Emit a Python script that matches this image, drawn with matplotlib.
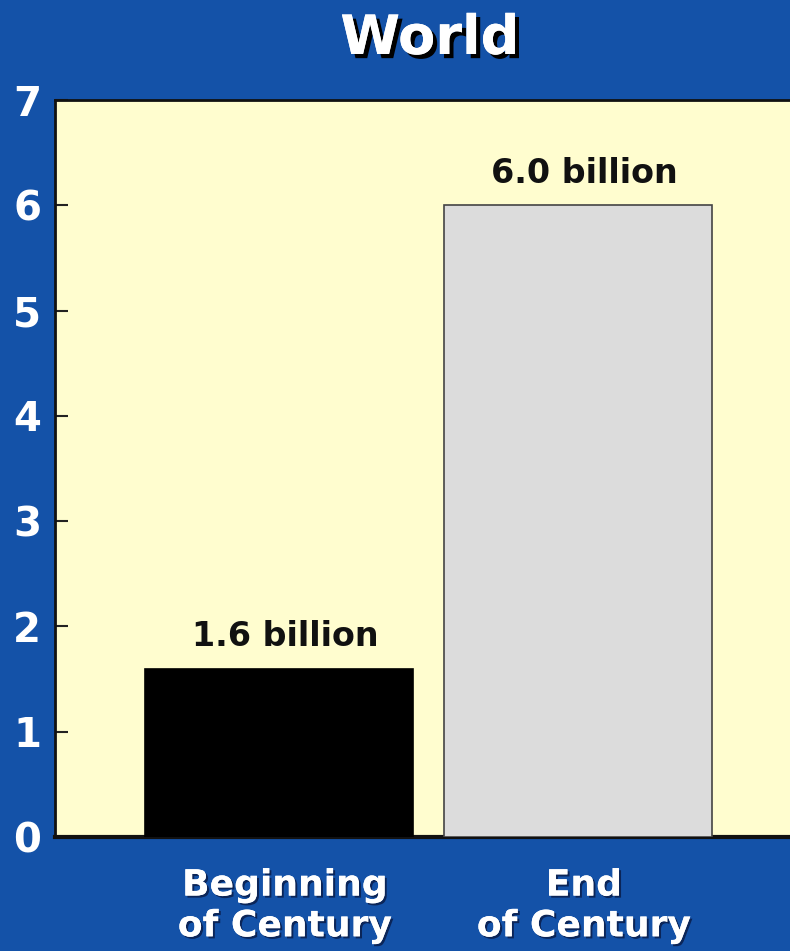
import matplotlib
matplotlib.use('Agg')
import matplotlib.pyplot as plt
import matplotlib.patheffects as pe

# World population, billions
categories = ['Beginning\nof Century', 'End\nof Century']
population = [1.6, 6.0]
value_labels = ['1.6 billion', '6.0 billion']
bar_colors = ['#000000', '#dcdcdc']
yticks = [0, 1, 2, 3, 4, 5, 6, 7]

BG_BLUE = '#1452a8'
PLOT_YELLOW = '#fffdcf'
FONT = ['DejaVu Sans']

fig = plt.figure(figsize=(7.9, 9.51), dpi=100)
fig.patch.set_facecolor(BG_BLUE)
ax = fig.add_axes([0.0696, 0.1199, 0.9304, 0.7749])
ax.set_facecolor(PLOT_YELLOW)

x = range(len(categories))
ax.bar(x, population, width=0.897, color=bar_colors,
       edgecolor=['#000000', '#444444'], linewidth=1.2, zorder=3)

for xi, v, lab in zip(x, population, value_labels):
    ax.text(xi + 0.02, v + 0.15, lab, ha='center', va='bottom',
            fontsize=24, fontweight='bold', color='#111111', family=FONT)

ax.set_xlim(-0.749, 1.709)
ax.set_ylim(0, 7)
ax.set_yticks(yticks)
ax.set_yticklabels([str(t) for t in yticks], fontsize=29, fontweight='bold',
                   color='white', family=FONT)
ax.tick_params(axis='y', direction='in', length=9, width=1.5, color='#222222', pad=10)
ax.set_xticks([])

for side in ['top', 'left']:
    ax.spines[side].set_color('#111111')
    ax.spines[side].set_linewidth(2)
ax.spines['bottom'].set_color('#111111')
ax.spines['bottom'].set_linewidth(3)
ax.spines['right'].set_visible(False)

shadow = [pe.withSimplePatchShadow(offset=(1.5, -1.5), shadow_rgbFace='#0a2050', alpha=0.9),
          pe.Normal()]

# category labels beneath the axis
for xi, cat in zip(x, categories):
    ax.text(xi + 0.02, -0.3, cat, ha='center', va='top', fontsize=26,
            fontweight='bold', color='white', family=FONT, linespacing=1.25,
            path_effects=shadow)

fig.text(0.544, 0.959, 'World', ha='center', va='center', fontsize=39,
         fontweight='bold', color='white', family=FONT,
         path_effects=[pe.withSimplePatchShadow(offset=(3, -3), shadow_rgbFace='black', alpha=1),
                       pe.Normal()])

fig.savefig('out.png', dpi=100, facecolor=BG_BLUE)
